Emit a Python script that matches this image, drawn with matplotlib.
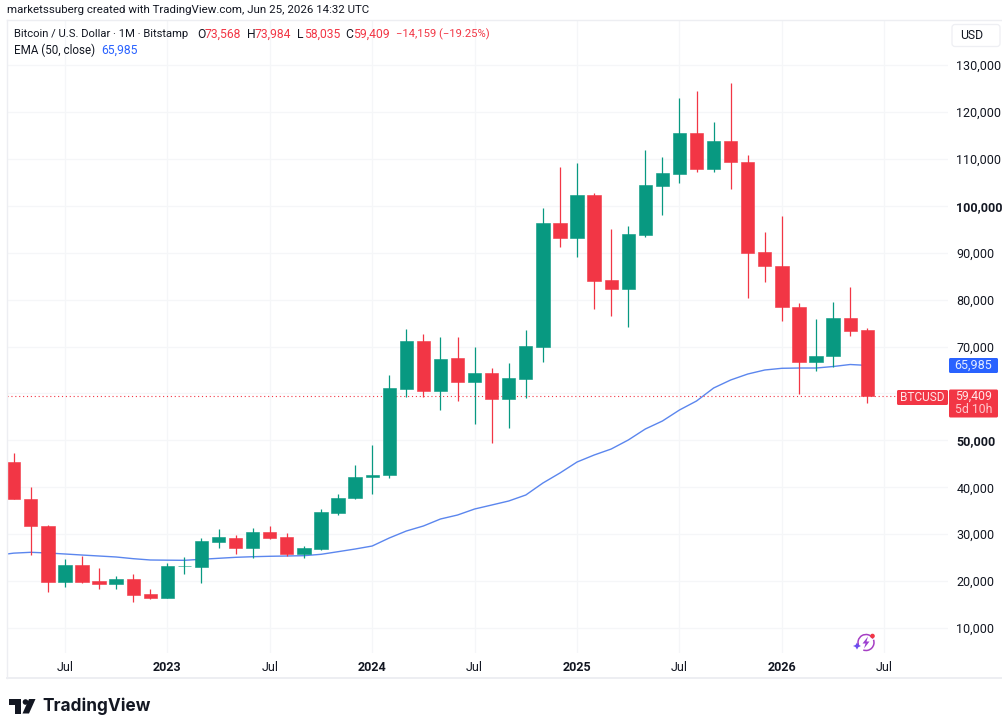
import matplotlib
matplotlib.use('Agg')
import matplotlib.pyplot as plt
from matplotlib.patches import FancyBboxPatch, Polygon, Circle, Arc

plt.rcParams['font.family'] = ['Roboto', 'DejaVu Sans']

GREEN = '#089981'
RED = '#F23645'
BLUE = '#2962FF'
TEXT = '#131722'
GRID = '#F5F6F8'

# monthly candles, Apr 2022 to Jun 2026
opens = [45400, 37570, 31750, 19870, 23370, 20090, 19380, 20450, 17250, 16460,
         23120, 23010, 28340, 29250, 26990, 30470, 29340, 25840, 26840, 34580,
         37720, 42260, 42580, 61020, 71190, 60470, 67500, 62380, 64430, 58760,
         63150, 69850, 96350, 93090, 102320, 84200, 82340, 93860, 104240, 106800,
         115540, 107930, 113830, 109350, 90170, 87280, 78440, 66780, 67990, 76160,
         73568]
highs = [47380, 40130, 31960, 24710, 25420, 22730, 21090, 21450, 18310, 23920,
         25200, 29250, 31040, 29830, 31320, 31750, 30190, 27550, 35310, 38570,
         44750, 48970, 64000, 73690, 72680, 71980, 71980, 69980, 65370, 66440,
         73540, 99610, 108290, 109210, 102680, 95010, 95710, 111920, 110360, 123000,
         124430, 117890, 126130, 110910, 94370, 97840, 79230, 75950, 79440, 82710,
         73984]
lows = [37400, 25560, 17610, 18810, 19530, 18250, 18250, 15540, 16250, 16460,
        21450, 19530, 27060, 25840, 24860, 28910, 25420, 24930, 26630, 34090,
        37600, 38500, 41900, 59320, 59190, 56480, 58400, 53490, 49510, 52580,
        58970, 66780, 91170, 89100, 78080, 76590, 74240, 93300, 98060, 104940,
        107290, 107160, 103530, 80420, 83700, 75520, 59890, 64860, 65710, 72320,
        58035]
closes = [37570, 31750, 19740, 23370, 19870, 19380, 20450, 17040, 16460, 23160,
          23300, 28550, 29340, 26990, 30470, 29130, 25840, 27060, 34730, 37720,
          42260, 42580, 61200, 71190, 60470, 67350, 62380, 64430, 58760, 63300,
          70190, 96350, 93090, 102320, 84050, 82340, 94000, 104390, 107080, 115540,
          107930, 113830, 109290, 90020, 87180, 78380, 66780, 68060, 76160, 73390,
          59409]
# starts one month earlier than the candles, the line runs off the left edge
ema = [25500, 25960, 26140, 25990, 25780, 25560, 25350, 25140, 24780, 24500, 24460,
       24430, 24650, 24860, 25070, 25200, 25290, 25350, 25420, 25710, 26270,
       26840, 27480, 29190, 30680, 31750, 33240, 34090, 35370, 36220, 37080,
       38360, 40910, 43050, 45390, 46880, 48160, 50080, 52430, 54130, 56480,
       58400, 61170, 62880, 64150, 65010, 65370, 65430, 65430, 65750, 66180,
       65985]

price_ticks = [10000, 20000, 30000, 40000, 50000, 60000, 70000, 80000, 90000,
               100000, 110000, 120000, 130000]
bold_prices = [50000, 100000]
time_ticks = [3, 9, 15, 21, 27, 33, 39, 45, 51]
time_labels = ['Jul', '2023', 'Jul', '2024', 'Jul', '2025', 'Jul', '2026', 'Jul']
bold_times = ['2023', '2024', '2025', '2026']

W, H = 1002, 718
fig = plt.figure(figsize=(W / 100, H / 100), dpi=100, facecolor='white')

# main pane, pixel box 7..948 x 20..653
ax = fig.add_axes([7 / W, 1 - 653 / H, (948 - 7) / W, (653 - 20) / H])
ax.set_xlim(-0.3925, 54.73)
ax.set_ylim(4670, 139630)
for s in ax.spines.values():
    s.set_visible(False)

ax.set_yticks(price_ticks)
ax.set_yticklabels([f'{p:,}' for p in price_ticks])
ax.yaxis.tick_right()
ax.tick_params(axis='y', length=0, pad=6, labelsize=9, labelcolor=TEXT)
ax.set_xticks(time_ticks)
ax.set_xticklabels(time_labels)
ax.tick_params(axis='x', length=0, pad=5.5, labelsize=9, labelcolor=TEXT)
for lab, p in zip(ax.get_yticklabels(), price_ticks):
    if p in bold_prices:
        lab.set_fontweight('bold')
for lab, t in zip(ax.get_xticklabels(), time_labels):
    if t in bold_times:
        lab.set_fontweight('bold')
ax.grid(color=GRID, linewidth=0.9)
ax.set_axisbelow(True)

ax.plot(range(-1, len(opens)), ema, color='#5B86EE', linewidth=1.0, zorder=2)

for i in range(len(opens)):
    c = GREEN if closes[i] >= opens[i] else RED
    ax.vlines(i, lows[i], highs[i], color=c, linewidth=0.9, zorder=3)
    ax.bar(i, abs(closes[i] - opens[i]), bottom=min(opens[i], closes[i]), width=0.78,
           color=c, edgecolor=c, linewidth=0.4, zorder=4)

ax.axhline(closes[-1], color=RED, linewidth=0.8, linestyle=(0, (1, 2.5)), zorder=3)

# everything around the pane, in pixels
ov = fig.add_axes([0, 0, 1, 1], facecolor='none')
ov.set_xlim(0, W)
ov.set_ylim(H, 0)
ov.axis('off')

ov.plot([7, 7], [20, 678], color='#EDEEF2', linewidth=1)
ov.plot([7, W], [20, 20], color='#EDEEF2', linewidth=1)
ov.plot([7, W], [678, 678], color='#EDEEF2', linewidth=1.4)


def label(x, y, s, color=TEXT, size=8.8, **kw):
    ov.text(x, y, s, color=color, fontsize=size, va='center', ha=kw.pop('ha', 'left'), **kw)


label(7, 10, 'marketssuberg created with TradingView.com, Jun 25, 2026 14:32 UTC', size=8.25)
label(14, 34, 'Bitcoin / U.S. Dollar · 1M · Bitstamp', size=8.1)
for x, s, col, sz in [(197, 'O', TEXT, 8.7), (205, '73,568', RED, 8.7), (247, 'H', TEXT, 8.7),
                      (255, '73,984', RED, 8.7), (297, 'L', TEXT, 8.7), (304, '58,035', RED, 8.7),
                      (345, 'C', TEXT, 8.7), (353, '59,409', RED, 8.7),
                      (396, '\u221214,159 (\u221219.25%)', RED, 8.1)]:
    label(x, 34, s, col, size=sz)
label(14, 50, 'EMA (50, close)', size=8.4)
label(101, 50, '65,985', BLUE, size=8.7)

# USD button
ov.add_patch(FancyBboxPatch((952, 24.5), 48, 22, boxstyle='round,pad=0,rounding_size=3',
                            facecolor='white', edgecolor='#EEEFF3', linewidth=0.9, zorder=5))
label(960, 35.5, 'USD', size=8.8, zorder=6)

# price tags
ov.add_patch(FancyBboxPatch((949, 358), 49, 15, boxstyle='round,pad=0,rounding_size=1.5',
                            facecolor=BLUE, edgecolor='none', zorder=5))
label(973.5, 365.5, '65,985', '#E4ECFF', ha='center', size=9, zorder=6)
ov.add_patch(FancyBboxPatch((897, 390), 51, 15, boxstyle='round,pad=0,rounding_size=1.5',
                            facecolor=RED, edgecolor='none', zorder=5))
label(922.5, 397.5, 'BTCUSD', '#FFE6E8', size=8.6, ha='center', zorder=6)
ov.add_patch(FancyBboxPatch((949, 389.5), 49, 28, boxstyle='round,pad=0,rounding_size=1.5',
                            facecolor=RED, edgecolor='none', zorder=5))
label(973.5, 396.5, '59,409', '#FFE6E8', ha='center', size=8.8, zorder=6)
label(973.5, 409.5, '5d 10h', '#FFC9CE', ha='center', size=8.8, zorder=6)

# TradingView logo
ov.add_patch(Polygon([(9, 699), (21, 699), (21, 713.5), (15, 713.5), (15, 705), (9, 705)],
                     facecolor=TEXT, edgecolor='none'))
ov.add_patch(Circle((25.5, 702), 2.8, facecolor=TEXT, edgecolor='none'))
ov.add_patch(Polygon([(29, 699), (35.5, 699), (29, 713.5), (22.5, 713.5)], facecolor=TEXT, edgecolor='none'))
ov.text(42.5, 706.5, 'TradingView', color=TEXT, fontsize=12.4, fontweight='bold', family='Inter',
        va='center', ha='left')

# small snapshot badge
ov.add_patch(Arc((866, 642.5), 16, 16, theta1=-20, theta2=110, color='#A63FC4', linewidth=1.1))
ov.add_patch(Arc((866, 642.5), 16, 16, theta1=150, theta2=330, color='#A63FC4', linewidth=1.1))
ov.add_patch(Polygon([(868, 636.5), (862.5, 643.5), (865.5, 643.5), (864, 648.5), (869.5, 641.5), (866.5, 641.5)],
                     facecolor='#9C3FD0', edgecolor='none'))
ov.add_patch(Polygon([(857, 642.5), (858.5, 645), (861, 646), (858.5, 647), (857, 649.5), (855.5, 647), (853, 646), (855.5, 645)],
                     facecolor='#6A4DF0', edgecolor='none'))
ov.add_patch(Circle((872.5, 636), 2.3, facecolor=RED, edgecolor='none'))

fig.savefig('out.png', dpi=100)
